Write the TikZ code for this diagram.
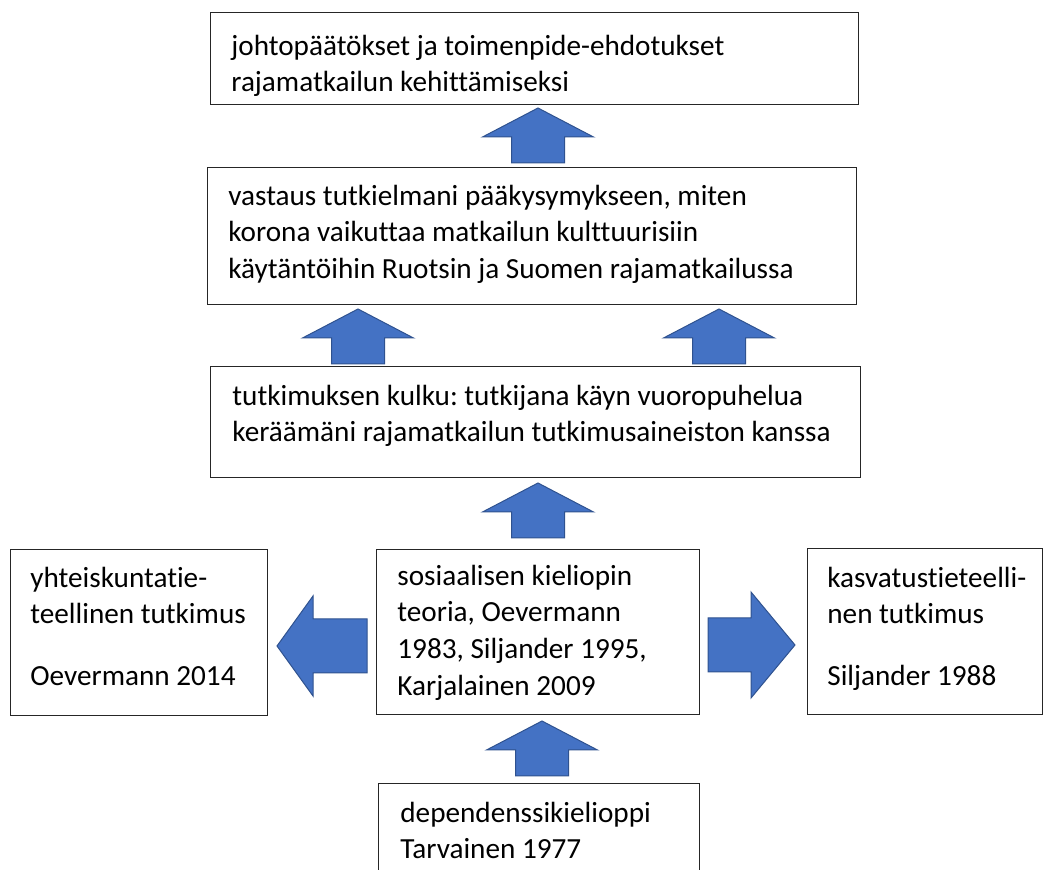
\documentclass[tikz,border=0pt]{standalone}
\usepackage{fontspec}
\setmainfont{Carlito}[Ligatures=NoCommon]
\frenchspacing
\newlength{\px}
\setlength{\px}{0.5pt}
\definecolor{arrowfill}{HTML}{4472C4}
\definecolor{arrowline}{HTML}{2F528F}
\newcommand{\blockup}[2]{\draw[blockarrow] (#1,#2) -- ++(55.5,29) -- ++(-29,0) -- ++(0,26) -- ++(-53,0) -- ++(0,-26) -- ++(-29,0) -- cycle;}

\begin{document}
\begin{tikzpicture}[x=0.5pt,y=-0.5pt]
\tikzstyle{box}=[draw=black!85,line width=0.65pt,anchor=north west,inner sep=0pt]
\tikzstyle{txt}=[anchor=north west,inner sep=0pt,align=left,font=\fontsize{14.6}{18.4}\selectfont]
\tikzstyle{blockarrow}=[fill=arrowfill,draw=arrowline,line width=0.5pt,line join=miter]
\useasboundingbox (0,0) rectangle (1046,870);
\clip (0,0) rectangle (1046,870);
\node[box,minimum width=648\px,minimum height=92\px] (concl) at (210,12) {};
\node[box,minimum width=649\px,minimum height=137\px] (answer) at (207,167) {};
\node[box,minimum width=650\px,minimum height=111\px] (course) at (210,366) {};
\node[box,minimum width=257\px,minimum height=166\px] (social) at (10,549) {};
\node[box,minimum width=323\px,minimum height=165\px] (grammar) at (376,549) {};
\node[box,minimum width=235\px,minimum height=166\px] (edu) at (807,548) {};
\node[box,minimum width=321\px,minimum height=110\px] (dep) at (378,783) {};
\node[txt] (conclT) at ([shift={(21,17)}]concl.north west) {\strut johtopäätökset ja toimenpide-ehdotukset\\rajamatkailun kehittämiseksi};
\node[txt] (answerT) at ([shift={(21,12)}]answer.north west) {\strut vastaus tutkielmani pääkysymykseen, miten\\korona vaikuttaa matkailun kulttuurisiin\\käytäntöihin Ruotsin ja Suomen rajamatkailussa};
\node[txt] (courseT) at ([shift={(22,13)}]course.north west) {\strut tutkimuksen kulku: tutkijana käyn vuoropuhelua\\keräämäni rajamatkailun tutkimusaineiston kanssa};
\node[txt] (socialT) at ([shift={(20,12)}]social.north west) {\strut yhteiskuntatie-\\teellinen tutkimus\\[12.5pt]Oevermann 2014};
\node[txt] (grammarT) at ([shift={(21,10)}]grammar.north west) {\strut sosiaalisen kieliopin\\teoria, Oevermann\\1983, Siljander 1995,\\Karjalainen 2009};
\node[txt] (eduT) at ([shift={(20,13)}]edu.north west) {\strut kasvatustieteelli-\\nen tutkimus\\[12.5pt]Siljander 1988};
\node[txt] (depT) at ([shift={(22,13)}]dep.north west) {\strut dependenssikielioppi\\Tarvainen 1977};
\blockup{538}{108}
\blockup{358}{309}
\blockup{719}{309}
\blockup{538}{483}
\blockup{542}{721}
\draw[blockarrow] (277,646) -- ++(36,-50) -- ++(0,23) -- ++(54,0) -- ++(0,54) -- ++(-54,0) -- ++(0,23) -- cycle;
\draw[blockarrow] (795,645) -- ++(-44,-53) -- ++(0,26) -- ++(-43,0) -- ++(0,54) -- ++(43,0) -- ++(0,26) -- cycle;
\end{tikzpicture}
\end{document}
